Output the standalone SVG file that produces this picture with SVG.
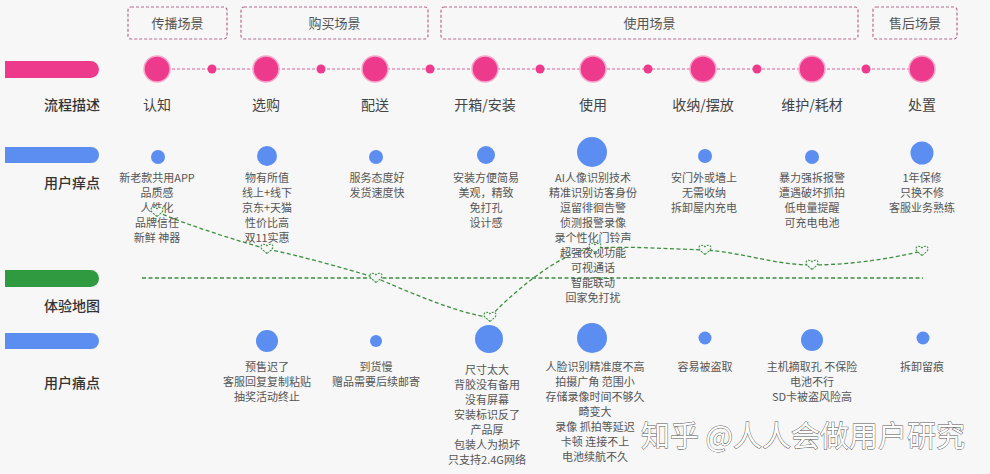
<svg xmlns="http://www.w3.org/2000/svg" xmlns:xlink="http://www.w3.org/1999/xlink" width="990" height="474" viewBox="0 0 990 474">
<style>
text{font-family:"Noto Sans CJK SC","Liberation Sans",sans-serif}
.hdr{fill:none;stroke:#b86a8e;stroke-width:1.2;stroke-dasharray:3 2}
.hdrt{font-size:13px;fill:#555;text-anchor:middle}
.side{font-size:14px;fill:#333;text-anchor:end;font-weight:500}
.stage{font-size:14px;fill:#444;text-anchor:middle}
.d{font-size:11px;fill:#555;text-anchor:middle}
.pk{fill:#ee3a8d;stroke:#f6a6cb;stroke-width:1.5}
.pks{fill:#ee3a8d}
.bl{fill:#5b8ef0}
.flow{stroke:#d9609a;stroke-width:1.2;stroke-dasharray:3 2;fill:none}
.gl{stroke:#3b8f3f;stroke-width:1.3;stroke-dasharray:4 2.5;fill:none}
.heart{fill:#f7f7f7;stroke:#3b8f3f;stroke-width:1.1;stroke-dasharray:2 1.2}
.wm{font-size:29px;fill:#fff;stroke:#555;stroke-width:0.9;paint-order:stroke}
</style>
<defs>
<path id="hrt" class="heart" d="M0,4.5 C-2,2.5 -6,0.5 -6,-2.2 C-6,-5 -2.8,-5.8 0,-3.2 C2.8,-5.8 6,-5 6,-2.2 C6,0.5 2,2.5 0,4.5 Z"/>
</defs>
<rect width="990" height="474" fill="#f7f7f7"/>

<g id="scenes">
<rect class="hdr" x="128" y="7" width="99" height="32" rx="3"/>
<text class="hdrt" x="177.5" y="28">传播场景</text>
<rect class="hdr" x="241" y="7" width="187" height="32" rx="3"/>
<text class="hdrt" x="334.5" y="28">购买场景</text>
<rect class="hdr" x="441" y="7" width="417" height="32" rx="3"/>
<text class="hdrt" x="649.5" y="28">使用场景</text>
<rect class="hdr" x="873" y="7" width="84" height="32" rx="3"/>
<text class="hdrt" x="915" y="28">售后场景</text>
</g>

<g id="row-labels">
<path d="M5,61 H90.5 A8.5,8.5 0 0 1 90.5,78 H5 Z" fill="#ee3a8d"/>
<text class="side" x="100" y="110">流程描述</text>
<path d="M5,147 H91 A8,8 0 0 1 91,163 H5 Z" fill="#5b8ef0"/>
<text class="side" x="100" y="188">用户痒点</text>
<path d="M5,270 H90.5 A8.5,8.5 0 0 1 90.5,287 H5 Z" fill="#2f9a3f"/>
<text class="side" x="100" y="311">体验地图</text>
<path d="M5,333 H91 A8,8 0 0 1 91,349 H5 Z" fill="#5b8ef0"/>
<text class="side" x="100" y="388">用户痛点</text>
</g>

<g id="connectors">
<line class="flow" x1="157" y1="69" x2="922" y2="69"/>
<line class="gl" x1="142" y1="278" x2="923" y2="278"/>
<path class="gl" d="M157,212 C190,226 235,240 267,249 C300,256 345,268 376,278 C400,288 460,315 490,317 C505,300 560,250 595,248 C630,246 670,249 705,250 C740,252 775,265 812,265 C850,265 895,258 922,251"/>
</g>

<g id="flow-dots">
<circle class="pks" cx="212" cy="69" r="4.5"/>
<circle class="pks" cx="321" cy="69" r="4.5"/>
<circle class="pks" cx="430" cy="69" r="4.5"/>
<circle class="pks" cx="540" cy="69" r="4.5"/>
<circle class="pks" cx="648" cy="69" r="4.5"/>
<circle class="pks" cx="757" cy="69" r="4.5"/>
<circle class="pks" cx="866" cy="69" r="4.5"/>
</g>

<g id="stage-cognition">
<circle class="pk" cx="157" cy="69" r="13"/>
<text class="stage" x="157" y="110">认知</text>
<circle class="bl" cx="158" cy="157" r="7"/>
<text class="d" y="182"><tspan x="157">新老款共用APP</tspan><tspan x="157" dy="15">品质感</tspan><tspan x="157" dy="15">人性化</tspan><tspan x="157" dy="15">品牌信任</tspan><tspan x="157" dy="15">新鲜 神器</tspan></text>
<use href="#hrt" x="157" y="212"/>
</g>

<g id="stage-purchase">
<circle class="pk" cx="266" cy="69" r="13"/>
<text class="stage" x="266" y="110">选购</text>
<circle class="bl" cx="267" cy="156" r="10"/>
<text class="d" y="182"><tspan x="267">物有所值</tspan><tspan x="267" dy="15">线上+线下</tspan><tspan x="267" dy="15">京东+天猫</tspan><tspan x="267" dy="15">性价比高</tspan><tspan x="267" dy="15">双11实惠</tspan></text>
<use href="#hrt" x="267" y="249"/>
<circle class="bl" cx="267" cy="341" r="11"/>
<text class="d" y="371"><tspan x="267">预售迟了</tspan><tspan x="267" dy="15">客服回复复制粘贴</tspan><tspan x="267" dy="15">抽奖活动终止</tspan></text>
</g>

<g id="stage-delivery">
<circle class="pk" cx="375" cy="69" r="13"/>
<text class="stage" x="375" y="110">配送</text>
<circle class="bl" cx="376" cy="157" r="7"/>
<text class="d" y="182"><tspan x="377">服务态度好</tspan><tspan x="377" dy="15">发货速度快</tspan></text>
<use href="#hrt" x="376" y="278"/>
<circle class="bl" cx="376" cy="341" r="6"/>
<text class="d" y="371"><tspan x="376">到货慢</tspan><tspan x="376" dy="15">赠品需要后续邮寄</tspan></text>
</g>

<g id="stage-unbox">
<circle class="pk" cx="485" cy="69" r="13"/>
<text class="stage" x="485" y="110">开箱/安装</text>
<circle class="bl" cx="486" cy="155" r="9"/>
<text class="d" y="182"><tspan x="486">安装方便简易</tspan><tspan x="486" dy="15">美观，精致</tspan><tspan x="486" dy="15">免打孔</tspan><tspan x="486" dy="15">设计感</tspan></text>
<use href="#hrt" x="490" y="317"/>
<circle class="bl" cx="489" cy="339" r="14"/>
<text class="d" y="374"><tspan x="487">尺寸太大</tspan><tspan x="487" dy="15">背胶没有备用</tspan><tspan x="487" dy="15">没有屏幕</tspan><tspan x="487" dy="15">安装标识反了</tspan><tspan x="487" dy="15">产品厚</tspan><tspan x="487" dy="15">包装人为损坏</tspan><tspan x="487" dy="15">只支持2.4G网络</tspan></text>
</g>

<g id="stage-use">
<circle class="pk" cx="593" cy="69" r="13"/>
<text class="stage" x="593" y="110">使用</text>
<circle class="bl" cx="592" cy="152" r="15"/>
<text class="d" y="182"><tspan x="593">AI人像识别技术</tspan><tspan x="593" dy="15">精准识别访客身份</tspan><tspan x="593" dy="15">逗留徘徊告警</tspan><tspan x="593" dy="15">侦测报警录像</tspan><tspan x="593" dy="15">录个性化门铃声</tspan><tspan x="593" dy="15">超强夜视功能</tspan><tspan x="593" dy="15">可视通话</tspan><tspan x="593" dy="15">智能联动</tspan><tspan x="593" dy="15">回家免打扰</tspan></text>
<use href="#hrt" x="595" y="248"/>
<circle class="bl" cx="592" cy="338" r="15"/>
<text class="d" y="371"><tspan x="595">人脸识别精准度不高</tspan><tspan x="595" dy="15">拍摄广角 范围小</tspan><tspan x="595" dy="15">存储录像时间不够久</tspan><tspan x="595" dy="15">畸变大</tspan><tspan x="595" dy="15">录像 抓拍等延迟</tspan><tspan x="595" dy="15">卡顿 连接不上</tspan><tspan x="595" dy="15">电池续航不久</tspan></text>
</g>

<g id="stage-storage">
<circle class="pk" cx="703" cy="69" r="13"/>
<text class="stage" x="703" y="110">收纳/摆放</text>
<circle class="bl" cx="705" cy="156" r="7"/>
<text class="d" y="182"><tspan x="704">安门外或墙上</tspan><tspan x="704" dy="15">无需收纳</tspan><tspan x="704" dy="15">拆卸屋内充电</tspan></text>
<use href="#hrt" x="705" y="250"/>
<circle class="bl" cx="705" cy="338" r="6.5"/>
<text class="d" x="705" y="371">容易被盗取</text>
</g>

<g id="stage-maintain">
<circle class="pk" cx="812" cy="69" r="13"/>
<text class="stage" x="812" y="110">维护/耗材</text>
<circle class="bl" cx="812" cy="157" r="7"/>
<text class="d" y="182"><tspan x="812">暴力强拆报警</tspan><tspan x="812" dy="15">遭遇破坏抓拍</tspan><tspan x="812" dy="15">低电量提醒</tspan><tspan x="812" dy="15">可充电电池</tspan></text>
<use href="#hrt" x="812" y="265"/>
<circle class="bl" cx="812" cy="340" r="11"/>
<text class="d" y="371"><tspan x="812">主机摘取孔 不保险</tspan><tspan x="812" dy="15">电池不行</tspan><tspan x="812" dy="15">SD卡被盗风险高</tspan></text>
</g>

<g id="stage-dispose">
<circle class="pk" cx="922" cy="69" r="13"/>
<text class="stage" x="922" y="110">处置</text>
<circle class="bl" cx="922" cy="153" r="11.5"/>
<text class="d" y="182"><tspan x="922">1年保修</tspan><tspan x="922" dy="15">只换不修</tspan><tspan x="922" dy="15">客服业务熟练</tspan></text>
<use href="#hrt" x="922" y="251"/>
<circle class="bl" cx="923" cy="338" r="6.5"/>
<text class="d" x="922" y="371">拆卸留痕</text>
</g>

<text class="wm" x="641" y="447">知乎 @人人会做用户研究</text>
</svg>
